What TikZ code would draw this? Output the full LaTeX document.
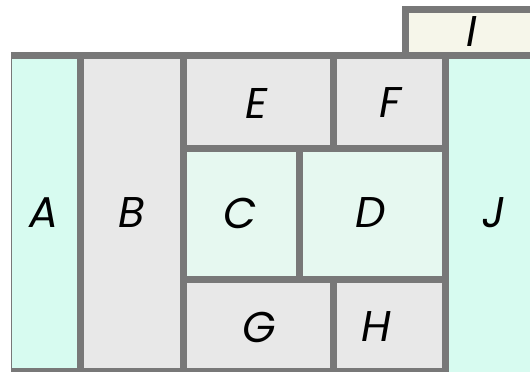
\documentclass[tikz,border=0pt]{standalone}
\usepackage{fontspec}
\setmainfont{Poppins}
\usepackage{tikz}
\usetikzlibrary{positioning}
\definecolor{wallgray}{HTML}{787878}
\definecolor{roomgray}{HTML}{E8E8E8}
\definecolor{roommint}{HTML}{D7FBF0}
\definecolor{roompale}{HTML}{E6F8F0}
\definecolor{roomcream}{HTML}{F6F6EA}
\tikzset{
  wall/.style={wallgray,line width=7pt},
  roomlabel/.style={font=\fontsize{43}{45}\selectfont\itshape},
}
\begin{document}
\begin{tikzpicture}[x=1pt,y=-1pt]
    \useasboundingbox (0,0) rectangle (530,372);
    \clip (0,0) rectangle (530,372);
    % room floors
    \fill[roommint] (11,55) rectangle (80,372);
    \fill[roomgray] (80,55) rectangle (184,372);
    \fill[roomgray] (184,55) rectangle (445,148);
    \fill[roompale] (184,148) rectangle (445,279);
    \fill[roomgray] (184,279) rectangle (445,372);
    \fill[roommint] (445,55) rectangle (530,372);
    \fill[roomcream] (405,9) rectangle (530,55);
    % walls
    \draw[wallgray,line width=1.5pt] (11.5,55)--(11.5,372);
    \draw[wall] (11,55.5)--(535,55.5);
    \draw[wall,line cap=rect] (405.5,55)--(405.5,9)--(535,9);
    \foreach \x in {80.5,183.5,445}{\draw[wall] (\x,52)--(\x,372);}
    \draw[wall] (11,371.5)--(448.5,371.5);
    \draw[wall] (180,148)--(448,148);
    \draw[wall] (180,279)--(448,279);
    \draw[wall] (333.5,55)--(333.5,148);
    \draw[wall] (299.5,148)--(299.5,279);
    \draw[wall] (333.5,279)--(333.5,372);
    % labels
    \node[roomlabel] (A) at (44,213) {A};
    \node[roomlabel] (B) at (132,213) {B};
    \node[roomlabel] (C) at (240,213) {C};
    \node[roomlabel] (D) at (371,213) {D};
    \node[roomlabel] (E) at (257,103) {E};
    \node[roomlabel] (F) at (390,103) {F};
    \node[roomlabel] (G) at (259,327) {G};
    \node[roomlabel] (H) at (376,327) {H};
    \node[roomlabel] (I) at (472,32) {I};
    \node[roomlabel] (J) at (494,213) {J};
  \end{tikzpicture}
\end{document}
